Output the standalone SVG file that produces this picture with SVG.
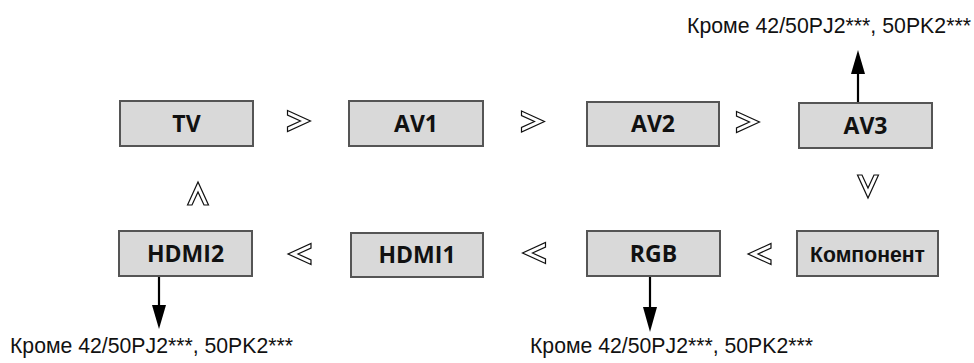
<svg xmlns="http://www.w3.org/2000/svg" width="974" height="363" viewBox="0 0 974 363">
<style>
.box{fill:#d9d9d9;stroke:#555;stroke-width:2}
.lbl{font-family:"Open Sans","Noto Sans",sans-serif;font-weight:bold;font-size:23px;fill:#111;text-anchor:middle}
.lbl2{font-family:"Liberation Sans",Arial,sans-serif;font-weight:bold;font-size:22px;fill:#111;text-anchor:middle}
.note{font-family:"Liberation Sans",Arial,sans-serif;font-size:21.5px;fill:#111}
.chev{fill:#fff;stroke:#111;stroke-width:1.2;stroke-linejoin:miter}
.ln{stroke:#000;stroke-width:2.2;fill:none}
.head{fill:#000}
</style>
<defs>
<path id="chev" d="M-11.5,-10.5 L11.5,0 L-11.5,10.5 L-11.5,6 L1.5,0 L-11.5,-6 Z"/>
</defs>
<g id="connectors">
<use href="#chev" class="chev" transform="translate(299,121)"/>
<use href="#chev" class="chev" transform="translate(533,121.5)"/>
<use href="#chev" class="chev" transform="translate(748,122)"/>
<use href="#chev" class="chev" transform="translate(868,186.5) rotate(90)"/>
<use href="#chev" class="chev" transform="translate(759.5,254) rotate(180)"/>
<use href="#chev" class="chev" transform="translate(534,253) rotate(180)"/>
<use href="#chev" class="chev" transform="translate(299.5,254) rotate(180)"/>
<use href="#chev" class="chev" transform="translate(198,193.5) rotate(-90)"/>
<g id="arrow-av3">
<line class="ln" x1="858" y1="103" x2="858" y2="72"/>
<polygon class="head" points="858,50 851,74 865,74"/>
</g>
<g id="arrow-hdmi2">
<line class="ln" x1="159" y1="276" x2="159" y2="307"/>
<polygon class="head" points="159,329 152,305 166,305"/>
</g>
<g id="arrow-rgb">
<line class="ln" x1="650" y1="276" x2="650" y2="309"/>
<polygon class="head" points="650,332 643,307 657,307"/>
</g>
</g>
<g id="node-tv"><rect class="box" x="120" y="101" width="133" height="45"/><text class="lbl" x="186.5" y="131.5">TV</text></g>
<g id="node-av1"><rect class="box" x="349" y="101" width="134" height="45"/><text class="lbl" x="416" y="131.5">AV1</text></g>
<g id="node-av2"><rect class="box" x="587" y="102" width="132" height="44"/><text class="lbl" x="653" y="132">AV2</text></g>
<g id="node-av3"><rect class="box" x="799" y="103" width="133" height="45"/><text class="lbl" x="865.5" y="133.5">AV3</text></g>
<g id="node-hdmi2"><rect class="box" x="119" y="231" width="133" height="45"/><text class="lbl" x="185.5" y="261.5">HDMI2</text></g>
<g id="node-hdmi1"><rect class="box" x="351" y="233" width="132" height="44"/><text class="lbl" x="417" y="263">HDMI1</text></g>
<g id="node-rgb"><rect class="box" x="587" y="231" width="133" height="45"/><text class="lbl" x="653.5" y="261.5">RGB</text></g>
<g id="node-component"><rect class="box" x="797" y="231" width="141" height="45"/><text class="lbl2" x="867.5" y="262" textLength="115" lengthAdjust="spacingAndGlyphs">Компонент</text></g>
<g id="notes">
<text class="note" x="687" y="33" textLength="284" lengthAdjust="spacingAndGlyphs">Кроме 42/50PJ2***, 50PK2***</text>
<text class="note" x="10" y="353" textLength="283" lengthAdjust="spacingAndGlyphs">Кроме 42/50PJ2***, 50PK2***</text>
<text class="note" x="530" y="353" textLength="283" lengthAdjust="spacingAndGlyphs">Кроме 42/50PJ2***, 50PK2***</text>
</g>
</svg>
